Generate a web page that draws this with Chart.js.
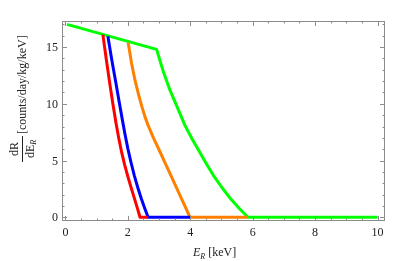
<!DOCTYPE html>
<html>
<head>
<meta charset="utf-8">
<script src="https://cdn.jsdelivr.net/npm/chart.js@4"></script>
<style>
  html, body { margin: 0; padding: 0; background: #fff; }
  #wrap { width: 407px; height: 261px; }
</style>
</head>
<body>
<div id="wrap"><canvas id="rateChart"></canvas></div>
<script>
// recoil energy (keV) and rate for each curve
const redE = [1.2, 1.31, 1.42, 1.52, 1.62, 1.71, 1.8, 1.9, 2.01, 2.1, 2.2, 2.3, 2.39, 2.65];
const redRate = [16.1, 13.9, 11.8, 10.0, 8.3, 6.95, 5.75, 4.6, 3.5, 2.65, 1.75, 0.85, 0, 0];

const blueE = [1.36, 1.49, 1.62, 1.72, 1.82, 1.91, 2.0, 2.1, 2.21, 2.32, 2.43, 2.54, 2.65, 4.0];
const blueRate = [15.95, 13.8, 11.8, 10.2, 8.65, 7.3, 6.05, 4.85, 3.65, 2.6, 1.65, 0.8, 0, 0];

const orangeE = [2.01, 2.12, 2.24, 2.35, 2.45, 2.55, 2.65, 2.82, 3.0, 3.2, 3.4, 3.55, 3.7, 3.85, 3.99, 5.85];
const orangeRate = [15.4, 13.55, 11.95, 10.75, 9.75, 8.85, 8.1, 7.0, 5.95, 4.75, 3.55, 2.65, 1.75, 0.86, 0, 0];

const greenE = [0.05, 2.92, 3.13, 3.35, 3.6, 3.83, 4.06, 4.3, 4.52, 4.74, 5.02, 5.3, 5.58, 5.85, 10.0];
const greenRate = [17.0, 14.8, 12.9, 11.2, 9.6, 8.1, 6.9, 5.75, 4.7, 3.7, 2.6, 1.6, 0.75, 0, 0];

const xTicks = [0, 2, 4, 6, 8, 10];
const yTicks = [0, 5, 10, 15];

const colors = {
  red: "#ff0000",
  blue: "#0000ff",
  orange: "#ff8000",
  green: "#00ff00",
  frame: "#8c8c8c",
  text: "#222",
};

function toPoints(xs, ys) {
  return xs.map((x, i) => ({ x: x, y: ys[i] }));
}

function makeSet(xs, ys, color) {
  return {
    data: toPoints(xs, ys),
    borderColor: color,
    backgroundColor: color,
    borderWidth: 3,
    borderJoinStyle: "round",
    pointRadius: 0,
    showLine: true,
    tension: 0,
    fill: false,
  };
}

// frame, inward ticks, labels and axis titles (Mathematica look)
const framePlugin = {
  id: "frame",
  afterDraw(chart) {
    const { ctx, chartArea: a } = chart;
    const xs = chart.scales.x;
    const ys = chart.scales.y;
    ctx.save();
    ctx.strokeStyle = colors.frame;
    ctx.lineWidth = 1;
    ctx.strokeRect(a.left + 0.5, a.top + 0.5, a.right - a.left - 1, a.bottom - a.top - 1);

    ctx.beginPath();
    // x ticks: major every 2, minor every 0.5
    for (let v = 0; v <= 10.001; v += 0.5) {
      const px = Math.round(xs.getPixelForValue(v)) + 0.5;
      const len = xTicks.includes(Math.round(v * 10) / 10) ? 5 : 2.5;
      ctx.moveTo(px, a.bottom);
      ctx.lineTo(px, a.bottom - len);
      ctx.moveTo(px, a.top);
      ctx.lineTo(px, a.top + len);
    }
    // y ticks: major every 5, minor every 1
    for (let v = 0; v <= 17; v += 1) {
      const py = Math.round(ys.getPixelForValue(v)) + 0.5;
      const len = yTicks.includes(v) ? 5 : 2.5;
      ctx.moveTo(a.left, py);
      ctx.lineTo(a.left + len, py);
      ctx.moveTo(a.right, py);
      ctx.lineTo(a.right - len, py);
    }
    ctx.stroke();

    ctx.fillStyle = colors.text;
    ctx.font = "12px 'Liberation Serif'";
    ctx.textAlign = "center";
    ctx.textBaseline = "middle";
    xTicks.forEach(v => {
      ctx.fillText(String(v), xs.getPixelForValue(v), 233);
    });
    ctx.textAlign = "right";
    yTicks.forEach(v => {
      ctx.fillText(String(v), 58, ys.getPixelForValue(v) + 1);
    });

    // x title: E_R [keV]
    ctx.textAlign = "left";
    ctx.textBaseline = "alphabetic";
    let x0 = 193;
    ctx.font = "italic 12px 'Liberation Serif'";
    ctx.fillText("E", x0, 256);
    x0 += ctx.measureText("E").width;
    ctx.font = "italic 8px 'Liberation Serif'";
    ctx.fillText("R", x0, 259);
    x0 += ctx.measureText("R").width;
    ctx.font = "12px 'Liberation Serif'";
    ctx.fillText(" [keV]", x0, 256);

    // y title: dR/dE_R [counts/day/kg/keV], rotated
    ctx.translate(22, 149);
    ctx.rotate(-Math.PI / 2);
    ctx.font = "12px 'Liberation Serif'";
    ctx.textAlign = "center";
    ctx.fillText("dR", 0, -4);
    ctx.beginPath();
    ctx.moveTo(-13, 0.5);
    ctx.lineTo(13, 0.5);
    ctx.strokeStyle = colors.text;
    ctx.stroke();
    ctx.textAlign = "left";
    const wE = ctx.measureText("dE").width;
    ctx.font = "italic 8px 'Liberation Serif'";
    const wR = ctx.measureText("R").width;
    ctx.font = "12px 'Liberation Serif'";
    ctx.fillText("dE", -(wE + wR) / 2, 12);
    ctx.font = "italic 8px 'Liberation Serif'";
    ctx.fillText("R", -(wE + wR) / 2 + wE, 14);
    ctx.font = "12px 'Liberation Serif'";
    ctx.fillText("[counts/day/kg/keV]", 15, 4);
    ctx.restore();
  },
};

new Chart(document.getElementById("rateChart").getContext("2d"), {
  type: "scatter",
  data: {
    datasets: [
      makeSet(redE, redRate, colors.red),
      makeSet(blueE, blueRate, colors.blue),
      makeSet(orangeE, orangeRate, colors.orange),
      makeSet(greenE, greenRate, colors.green),
    ],
  },
  options: {
    responsive: true,
    maintainAspectRatio: false,
    animation: false,
    layout: { padding: { left: 62, top: 21, right: 22, bottom: 40 } },
    plugins: {
      legend: { display: false },
      tooltip: { enabled: false },
    },
    scales: {
      x: { type: "linear", min: -0.11, max: 10.24, display: false },
      y: { type: "linear", min: -0.33, max: 17.3, display: false },
    },
  },
  plugins: [framePlugin],
});
</script>
</body>
</html>
